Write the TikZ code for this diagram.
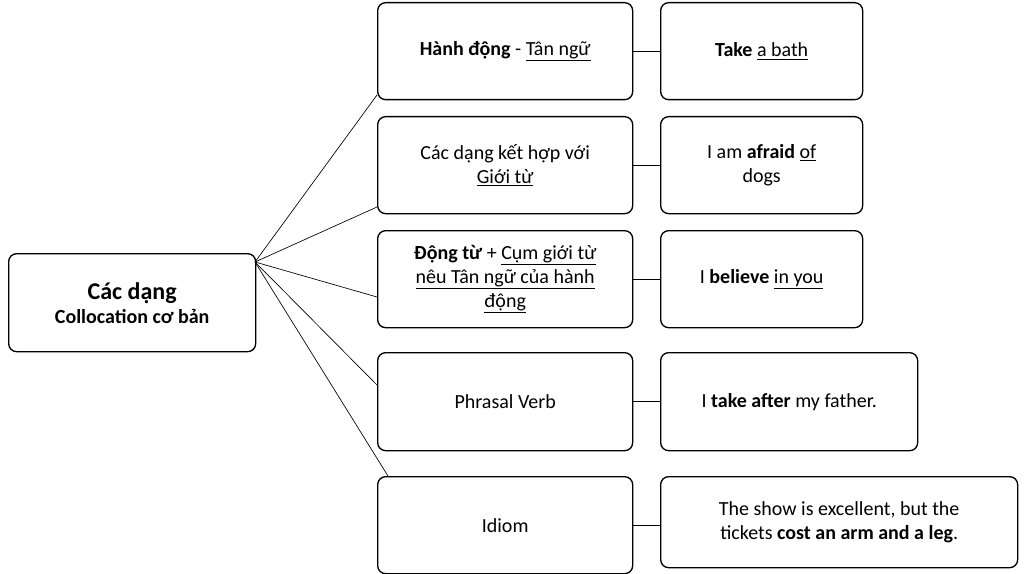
\documentclass[tikz,border=0pt]{standalone}
\usepackage{fontspec}
\setmainfont{Carlito}
\begin{document}
\begin{tikzpicture}[x=0.75pt,y=-0.75pt,
  box/.style={draw,line width=1pt,rounded corners=6pt,align=center,font=\fontsize{15}{18}\selectfont},
  ln/.style={draw,line width=0.5pt}]
\useasboundingbox (0,0) rectangle (1024,574);
\def\bx#1#2#3#4#5#6{\node[box,minimum width=(#4-#2)*0.75pt,minimum height=(#5-#3)*0.75pt,anchor=north west,inner sep=2pt] (#1) at (#2,#3) {#6};}
\bx{root}{8}{253}{255}{351}{\fontsize{18}{22}\selectfont\textbf{Các dạng}\\\textbf{Collocation cơ bản}}
\bx{m1}{377}{2}{632}{99}{\textbf{Hành động} - \underline{Tân ngữ}}
\bx{m2}{377}{116}{632}{213}{Các dạng kết hợp với\\\underline{Giới từ}}
\bx{m3}{377}{230}{632}{327}{\textbf{Động từ} + \underline{Cụm giới từ}\\\underline{nêu Tân ngữ của hành}\\\underline{động}}
\bx{m4}{377}{352}{632}{450}{Phrasal Verb}
\bx{m5}{377}{476}{632}{573}{Idiom}
\bx{r1}{660}{2}{862}{99}{\textbf{Take} \underline{a bath}}
\bx{r2}{660}{116}{862}{213}{I am \textbf{afraid} \underline{of}\\dogs}
\bx{r3}{660}{230}{862}{327}{I \textbf{believe} \underline{in you}}
\bx{r4}{660}{352}{917}{450}{I \textbf{take after} my father.}
\bx{r5}{660}{476}{1017}{567}{The show is excellent, but the\\tickets \textbf{cost an arm and a leg}.}
\coordinate (s) at (255,262);
\draw[ln] (s) -- (m1.west |- 0,95);
\draw[ln] (s) -- (m2.west |- 0,207);
\draw[ln] (s) -- (m3.west |- 0,297);
\draw[ln] (s) -- (m4.west |- 0,385);
\draw[ln] (s) -- (388,476);
\foreach \i in {1,...,5} \draw[ln] (m\i.east) -- (r\i.west |- m\i.east);
\end{tikzpicture}
\end{document}
